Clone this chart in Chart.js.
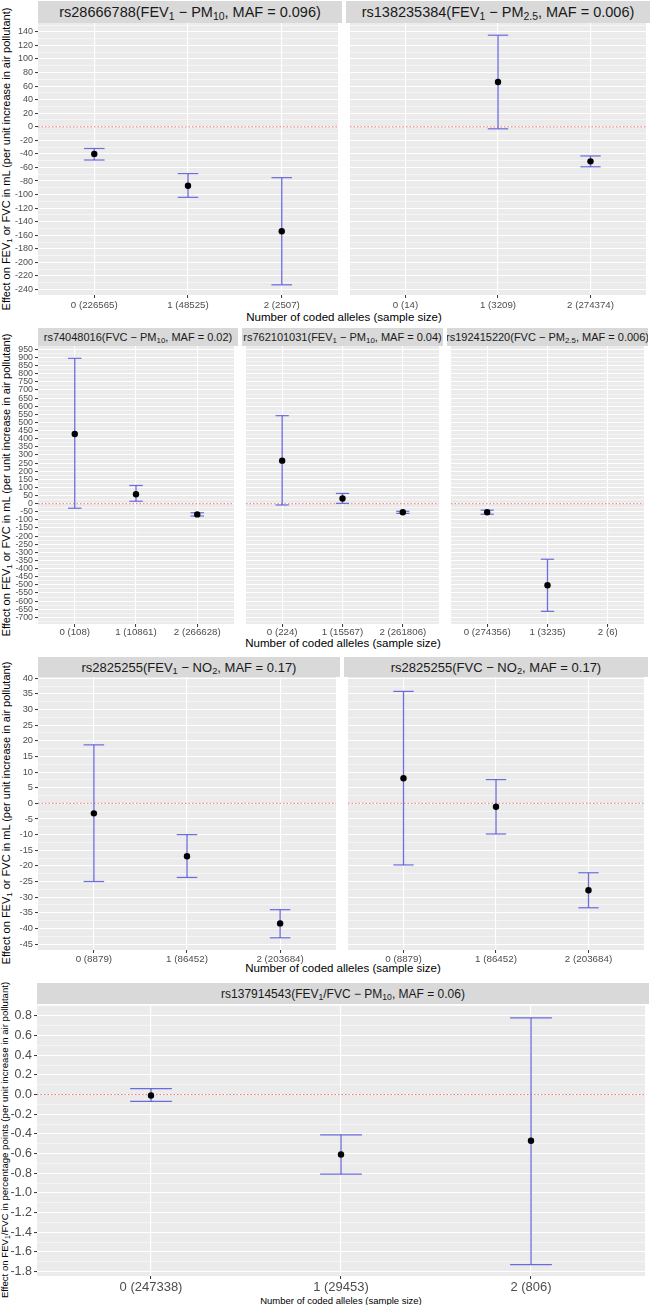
<!DOCTYPE html>
<html><head><meta charset="utf-8">
<script src="https://cdn.jsdelivr.net/npm/chart.js@4/dist/chart.umd.min.js"></script>
<style>
html,body{margin:0;padding:0;background:#fff;}
#wrap{position:relative;width:651px;height:1305px;overflow:hidden;font-family:"Liberation Sans",Arial,sans-serif;}
canvas{position:absolute;}
.strip{position:absolute;background:#D9D9D9;color:#1A1A1A;display:flex;align-items:center;justify-content:center;white-space:nowrap;overflow:hidden;z-index:2;}
.ytitle,.xtitle{position:absolute;white-space:nowrap;color:#000;transform-origin:center;z-index:1;}
.ytitle{transform:translate(-50%,-50%) rotate(-90deg);}
.xtitle{transform:translate(-50%,-50%);}
sub{font-size:0.72em;vertical-align:baseline;position:relative;top:0.28em;line-height:0;}
</style></head><body><div id="wrap"></div>
<script>
// ---------------- DATA ----------------
// Figure 1
const fig1Titles = ['rs28666788(FEV<sub>1</sub> \u2212 PM<sub>10</sub>, MAF = 0.096)', 'rs138235384(FEV<sub>1</sub> \u2212 PM<sub>2.5</sub>, MAF = 0.006)'];
const fig1aLabels = ['0 (226565)', '1 (48525)', '2 (2507)'];
const fig1aEst  = [-40, -87, -154];
const fig1aLow  = [-49, -104, -233];
const fig1aHigh = [-32, -69, -75];
const fig1bLabels = ['0 (14)', '1 (3209)', '2 (274374)'];
const fig1bEst  = [null, 66, -51];
const fig1bLow  = [null, -3, -59];
const fig1bHigh = [null, 135, -43];
// Figure 2
const fig2Titles = ['rs74048016(FVC \u2212 PM<sub>10</sub>, MAF = 0.02)', 'rs762101031(FEV<sub>1</sub> \u2212 PM<sub>10</sub>, MAF = 0.04)', 'rs192415220(FVC \u2212 PM<sub>2.5</sub>, MAF = 0.006)'];
const fig2aLabels = ['0 (108)', '1 (10861)', '2 (266628)'];
const fig2aEst  = [429, 58, -66];
const fig2aLow  = [-28, 15, -76];
const fig2aHigh = [895, 112, -56];
const fig2bLabels = ['0 (224)', '1 (15567)', '2 (261806)'];
const fig2bEst  = [265, 32, -53];
const fig2bLow  = [-8, 2, -60];
const fig2bHigh = [542, 63, -47];
const fig2cLabels = ['0 (274356)', '1 (3235)', '2 (6)'];
const fig2cEst  = [-53, -502, null];
const fig2cLow  = [-65, -663, null];
const fig2cHigh = [-40, -342, null];
// Figure 3
const fig3Titles = ['rs2825255(FEV<sub>1</sub> \u2212 NO<sub>2</sub>, MAF = 0.17)', 'rs2825255(FVC \u2212 NO<sub>2</sub>, MAF = 0.17)'];
const fig3aLabels = ['0 (8879)', '1 (86452)', '2 (203684)'];
const fig3aEst  = [-3.2, -16.9, -38.4];
const fig3aLow  = [-25, -23.7, -43];
const fig3aHigh = [18.7, -10, -34];
const fig3bLabels = ['0 (8879)', '1 (86452)', '2 (203684)'];
const fig3bEst  = [8, -1.1, -27.8];
const fig3bLow  = [-19.7, -9.8, -33.4];
const fig3bHigh = [35.8, 7.6, -22.2];
// Figure 4
const fig4Titles = ['rs137914543(FEV<sub>1</sub>/FVC \u2212 PM<sub>10</sub>, MAF = 0.06)'];
const fig4Labels = ['0 (247338)', '1 (29453)', '2 (806)'];
const fig4Est  = [-0.01, -0.61, -0.47];
const fig4Low  = [-0.07, -0.81, -1.73];
const fig4High = [0.06, -0.41, 0.78];

const yTitleML = 'Effect on FEV<sub>1</sub> or FVC in mL (per unit increase in air pollutant)';
const yTitlePct = 'Effect on FEV<sub>1</sub>/FVC in percentage points (per unit increase in air pollutant)';
const xTitle = 'Number of coded alleles (sample size)';

// ---------------- RENDER ----------------
Chart.defaults.font.family = '"Liberation Sans", Arial, sans-serif';
const wrap = document.getElementById('wrap');
const BAR = 'rgba(85,85,215,0.85)';

function addDiv(cls, html, css) {
  const d = document.createElement('div');
  d.className = cls; d.innerHTML = html;
  Object.assign(d.style, css);
  wrap.appendChild(d);
}
function strip(html, L, R, T, B, fs) {
  addDiv('strip', '<span>' + html + '</span>', {left: L + 'px', top: T + 'px', width: (R - L) + 'px', height: (B - T) + 'px', fontSize: fs + 'px'});
}
function yTitle(html, cx, cy, fs) {
  addDiv('ytitle', html, {left: cx + 'px', top: cy + 'px', fontSize: fs + 'px'});
}
function xTitleDiv(html, cx, cy, fs) {
  addDiv('xtitle', html, {left: cx + 'px', top: cy + 'px', fontSize: fs + 'px'});
}

const panelBg = {
  id: 'panelBg',
  beforeDraw(chart) {
    const a = chart.chartArea, ctx = chart.ctx;
    ctx.save(); ctx.fillStyle = '#EBEBEB';
    ctx.fillRect(a.left, a.top, a.right - a.left, a.bottom - a.top);
    ctx.restore();
  }
};

function isMajor(v, major) { const r = v / major; return Math.abs(r - Math.round(r)) < 1e-6; }

function panel(cfg) {
  const axW = cfg.yAxis ? cfg.L : 0;
  const padT = 8, axH = cfg.axH;
  const c = document.createElement('canvas');
  const left = cfg.L - axW, top = cfg.T - padT;
  const w = cfg.R - cfg.L + axW, h = cfg.B - cfg.T + padT + axH;
  c.width = w; c.height = h;
  Object.assign(c.style, {left: left + 'px', top: top + 'px', width: w + 'px', height: h + 'px', zIndex: 3});
  wrap.appendChild(c);
  const capR = ctx => { const s = ctx.chart.scales.x; return Math.abs(s.getPixelForValue(0.11) - s.getPixelForValue(0)); };
  const whisk = [], caps = [], pts = [];
  cfg.est.forEach((e, i) => {
    if (e === null) return;
    whisk.push({x: i, y: cfg.lo[i]}, {x: i, y: cfg.hi[i]}, {x: i + 0.5, y: null});
    caps.push({x: i, y: cfg.lo[i]}, {x: i, y: cfg.hi[i]});
    pts.push({x: i, y: e});
  });
  const datasets = [
    {type: 'line', data: [{x: -0.6, y: 0}, {x: 2.6, y: 0}],
     borderColor: 'rgba(240,70,70,0.75)', borderWidth: 1, borderDash: [1.5, 2], pointRadius: 0, order: 4},
    {type: 'line', data: whisk, spanGaps: false, borderColor: BAR, backgroundColor: BAR,
     borderWidth: 1.3, pointRadius: 0, fill: false, order: 3},
    {type: 'scatter', data: caps, pointStyle: 'line', pointRadius: capR,
     borderColor: BAR, backgroundColor: BAR, borderWidth: 1.2, order: 2},
    {type: 'scatter', data: pts, pointStyle: 'circle', pointRadius: 3.2,
     backgroundColor: '#000000', borderColor: '#000000', borderWidth: 0, order: 1}
  ];
  const ya = !!cfg.yAxis;
  new Chart(c, {
    type: 'scatter',
    data: {datasets},
    plugins: [panelBg],
    options: {
      responsive: false, animation: false, devicePixelRatio: 1, events: [],
      layout: {padding: {top: padT, left: 0, right: 0, bottom: 0}},
      plugins: {legend: {display: false}, tooltip: {enabled: false}},
      scales: {
        x: {
          type: 'linear', min: -0.6, max: 2.6, offset: false,
          afterBuildTicks: s => { s.ticks = [0, 1, 2].map(v => ({value: v})); },
          afterFit: s => { s.height = axH; },
          ticks: {autoSkip: false, maxRotation: 0, minRotation: 0, color: '#4D4D4D',
            font: {size: cfg.xFont}, padding: cfg.xPad, callback: v => cfg.labels[v]},
          grid: {color: '#FFFFFF', lineWidth: 1.1, drawTicks: true, tickLength: 3, tickColor: '#333333', tickWidth: 1},
          border: {display: false}
        },
        y: {
          type: 'linear', min: cfg.yMin, max: cfg.yMax,
          afterFit: s => { s.width = axW; },
          ticks: {display: ya, stepSize: cfg.minor, autoSkip: false, includeBounds: false,
            color: '#4D4D4D', font: {size: cfg.yFont}, padding: 2,
            callback: v => isMajor(v, cfg.major) ? (cfg.dec ? v.toFixed(cfg.dec) : String(Math.round(v))) : ''},
          grid: {color: '#FFFFFF',
            lineWidth: ctx => (ctx.tick && isMajor(ctx.tick.value, cfg.major)) ? 1.1 : 0.5,
            drawTicks: ya, tickLength: 3,
            tickColor: ctx => (ctx.tick && isMajor(ctx.tick.value, cfg.major)) ? '#333333' : 'rgba(0,0,0,0)',
            tickWidth: 1},
          border: {display: false}
        }
      }
    }
  });
}

// Figure 1
const f1 = {T: 23, B: 295, yMin: -248, yMax: 153, major: 20, minor: 10, dec: 0, xFont: 9.7, yFont: 9, xPad: 2, axH: 20};
panel(Object.assign({}, f1, {L: 38, R: 342, yAxis: true, labels: fig1aLabels, est: fig1aEst, lo: fig1aLow, hi: fig1aHigh}));
panel(Object.assign({}, f1, {L: 346, R: 650, labels: fig1bLabels, est: fig1bEst, lo: fig1bLow, hi: fig1bHigh}));
strip(fig1Titles[0], 38, 342, 1, 23, 14.5);
strip(fig1Titles[1], 346, 650, 1, 23, 14.5);
xTitleDiv(xTitle, 344, 317, 11.5);
yTitle(yTitleML, 6, 159, 11);

// Figure 2
const f2 = {T: 346, B: 624, yMin: -741, yMax: 971, major: 50, minor: 25, dec: 0, xFont: 9.7, yFont: 8.8, xPad: 0, axH: 16};
panel(Object.assign({}, f2, {L: 38, R: 238, yAxis: true, labels: fig2aLabels, est: fig2aEst, lo: fig2aLow, hi: fig2aHigh}));
panel(Object.assign({}, f2, {L: 242, R: 443, labels: fig2bLabels, est: fig2bEst, lo: fig2bLow, hi: fig2bHigh}));
panel(Object.assign({}, f2, {L: 447, R: 648, labels: fig2cLabels, est: fig2cEst, lo: fig2cLow, hi: fig2cHigh}));
strip(fig2Titles[0], 38, 238, 328, 346, 11);
strip(fig2Titles[1], 242, 443, 328, 346, 11);
strip(fig2Titles[2], 447, 648, 328, 346, 11);
xTitleDiv(xTitle, 343, 643, 11.5);
yTitle(yTitleML, 6, 485, 11);

// Figure 3
const f3 = {T: 677, B: 950, yMin: -46.9, yMax: 40.4, major: 5, minor: 2.5, dec: 0, xFont: 9.8, yFont: 9.3, xPad: 0, axH: 16};
panel(Object.assign({}, f3, {L: 38, R: 340, yAxis: true, labels: fig3aLabels, est: fig3aEst, lo: fig3aLow, hi: fig3aHigh}));
panel(Object.assign({}, f3, {L: 344, R: 648, labels: fig3bLabels, est: fig3bEst, lo: fig3bLow, hi: fig3bHigh}));
strip(fig3Titles[0], 38, 340, 657, 677, 13);
strip(fig3Titles[1], 344, 648, 657, 677, 13);
xTitleDiv(xTitle, 343, 968, 11.5);
yTitle(yTitleML, 6, 813, 11);

// Figure 4
const f4 = {T: 1004, B: 1276, yMin: -1.845, yMax: 0.905, major: 0.2, minor: 0.1, dec: 1, xFont: 13, yFont: 12.5, xPad: 1, axH: 22};
panel(Object.assign({}, f4, {L: 37, R: 649, yAxis: true, labels: fig4Labels, est: fig4Est, lo: fig4Low, hi: fig4High}));
strip(fig4Titles[0], 37, 649, 983, 1004, 12);
xTitleDiv(xTitle, 341, 1300, 9.5);
yTitle(yTitlePct, 4, 1140, 9.6);
</script></body></html>
